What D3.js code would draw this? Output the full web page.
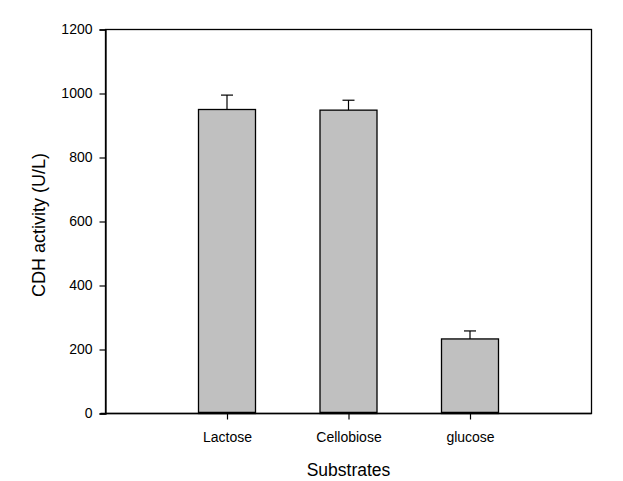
<!DOCTYPE html>
<html><head><meta charset="utf-8">
<script src="https://cdn.jsdelivr.net/npm/d3@7/dist/d3.min.js"></script>
<style>body{margin:0;background:#fff}svg{display:block}text{font-family:"Liberation Sans",Arial,sans-serif;fill:#000}</style>
</head><body>
<script>
const categories = ["Lactose", "Cellobiose", "glucose"];
const values = [950, 948, 233];
const errors = [45, 31, 25];
const yTicks = [0, 200, 400, 600, 800, 1000, 1200];

const W = 623, H = 481;
const m = {left: 105.5, right: 591.5, top: 29.5, bottom: 413.5};
const svg = d3.select("body").append("svg").attr("width", W).attr("height", H);

const x = d3.scaleLinear().domain([0, categories.length + 1]).range([m.left, m.right]);
const y = d3.scaleLinear().domain([0, 1200]).range([m.bottom, m.top]);
const bw = 57;

// frame
svg.append("rect").attr("x", m.left).attr("y", m.top).attr("width", m.right - m.left).attr("height", m.bottom - m.top)
  .attr("fill", "none").attr("stroke", "#000").attr("stroke-width", 1.3);

// bars
const g = svg.append("g");
categories.forEach((c, i) => {
  const cx = x(i + 1);
  g.append("line").attr("x1", cx).attr("x2", cx).attr("y1", y(values[i])).attr("y2", y(values[i] + errors[i]))
    .attr("stroke", "#000").attr("stroke-width", 1.2);
  g.append("line").attr("x1", cx - 6).attr("x2", cx + 6).attr("y1", y(values[i] + errors[i])).attr("y2", y(values[i] + errors[i]))
    .attr("stroke", "#000").attr("stroke-width", 1.2);
  g.append("rect").attr("x", cx - bw / 2).attr("y", y(values[i])).attr("width", bw).attr("height", y(0) - y(values[i]))
    .attr("fill", "#c0c0c0").attr("stroke", "#000").attr("stroke-width", 1.3);
  g.append("line").attr("x1", cx - bw / 2).attr("x2", cx + bw / 2).attr("y1", y(0) - 1).attr("y2", y(0) - 1)
    .attr("stroke", "#000").attr("stroke-width", 1.5);
});

// y axis
const ya = svg.append("g").attr("transform", `translate(${m.left},0)`)
  .call(d3.axisLeft(y).tickValues(yTicks).tickSize(6).tickPadding(7).tickFormat(d3.format("d")));
ya.select(".domain").attr("stroke-width", 1.3);
ya.selectAll(".tick line").attr("stroke-width", 1.2);
ya.selectAll("text").style("font-size", "14px").style("font-family", '"Liberation Sans",Arial,sans-serif');

// x axis
const xa = svg.append("g").attr("transform", `translate(0,${m.bottom})`)
  .call(d3.axisBottom(x).tickValues(categories.map((c, i) => i + 1)).tickSize(6).tickPadding(13)
    .tickFormat((d) => categories[d - 1]));
xa.select(".domain").remove();
svg.append("line").attr("x1", m.left - 5).attr("x2", m.right).attr("y1", m.bottom).attr("y2", m.bottom)
  .attr("stroke", "#000").attr("stroke-width", 1.3);
xa.selectAll(".tick line").attr("stroke-width", 1.2);
xa.selectAll("text").style("font-size", "14px").style("font-family", '"Liberation Sans",Arial,sans-serif');

// titles
svg.append("text").attr("x", (m.left + m.right) / 2).attr("y", 476).attr("text-anchor", "middle")
  .style("font-size", "17.5px").text("Substrates");
svg.append("text").attr("transform", "translate(45,225) rotate(-90)").attr("text-anchor", "middle")
  .style("font-size", "18px").text("CDH activity (U/L)");
</script>
</body></html>
